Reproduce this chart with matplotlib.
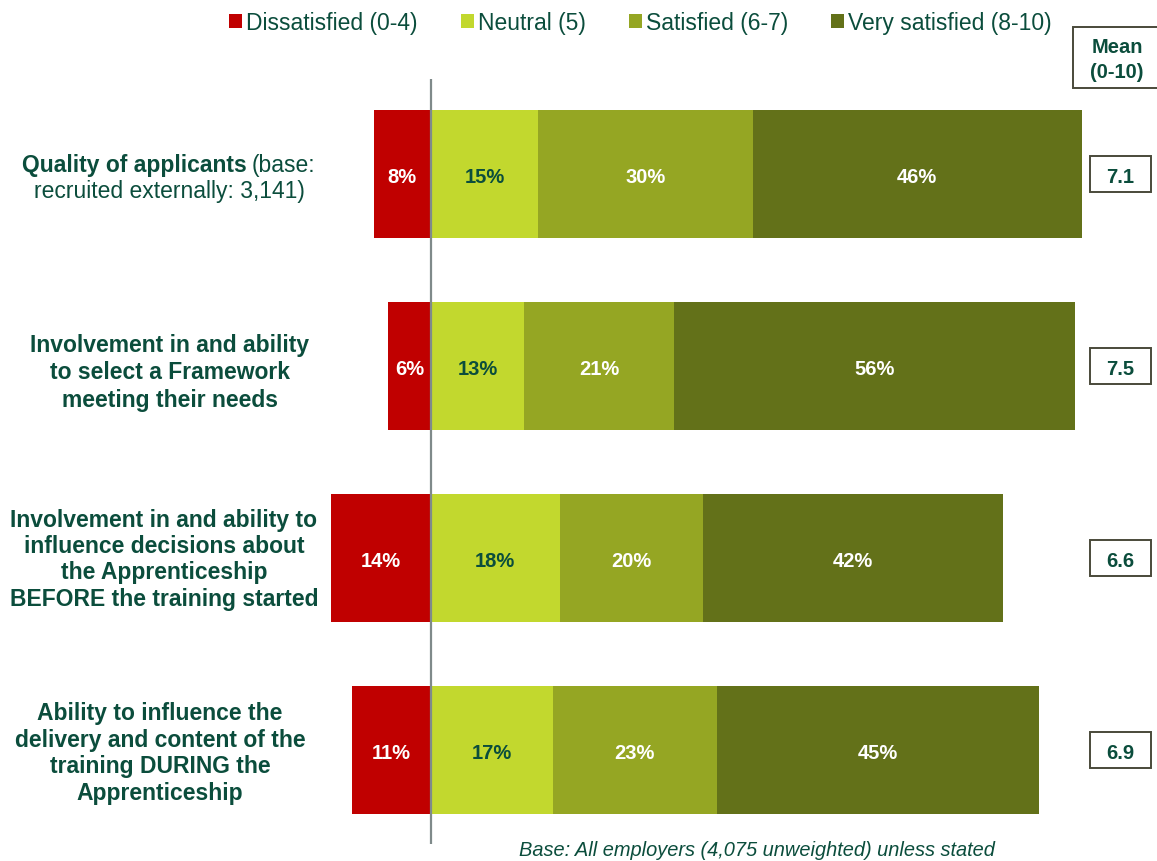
import matplotlib
matplotlib.use("Agg")
import matplotlib.pyplot as plt
from matplotlib.patches import Rectangle

plt.rcParams['font.family'] = ['Liberation Sans', 'DejaVu Sans']

categories = [
    "Quality of applicants",
    "Involvement in and ability\nto select a Framework\nmeeting their needs",
    "Involvement in and ability to\ninfluence decisions about\nthe Apprenticeship\nBEFORE the training started",
    "Ability to influence the\ndelivery and content of the\ntraining DURING the\nApprenticeship",
]
dissatisfied = [8, 6, 14, 11]
neutral = [15, 13, 18, 17]
satisfied = [30, 21, 20, 23]
very_satisfied = [46, 56, 42, 45]
means = ["7.1", "7.5", "6.6", "6.9"]
series_names = ["Dissatisfied (0-4)", "Neutral (5)", "Satisfied (6-7)", "Very satisfied (8-10)"]

C_RED = "#C00000"
C_NEU = "#C2D82E"
C_SAT = "#95A623"
C_VS = "#637119"
TXT = "#0B4D3C"
BOX_EC = "#4A4A3A"

W, H = 1157, 862
fig = plt.figure(figsize=(W / 100, H / 100), dpi=100)
ax = fig.add_axes([0, 0, 1, 1])
ax.axis("off")

PX = 7.15      # pixels per percent
X0 = 431       # zero line pixel
ROW0, ROWSTEP = 175, 192
ax.set_xlim(-X0 / PX, (W - X0) / PX)
ax.set_ylim((H - ROW0) / ROWSTEP, -ROW0 / ROWSTEP)

def fx(px):
    return px / W

def fy(py):
    return 1 - py / H

ys = list(range(len(categories)))
h = 128 / ROWSTEP
dy = 2.5 / ROWSTEP

b0 = ax.barh(ys, [-d for d in dissatisfied], height=h, color=C_RED, label=series_names[0])
b1 = ax.barh(ys, neutral, height=h, color=C_NEU, label=series_names[1])
left2 = neutral
b2 = ax.barh(ys, satisfied, left=left2, height=h, color=C_SAT, label=series_names[2])
left3 = [a + b for a, b in zip(neutral, satisfied)]
b3 = ax.barh(ys, very_satisfied, left=left3, height=h, color=C_VS, label=series_names[3])

ax.vlines(0, (80 - ROW0) / ROWSTEP, (845 - ROW0) / ROWSTEP, color="#7F8A8A", lw=1.6, zorder=5)

fs_pct = 14.5
bw, bh = 61 / PX, 36 / ROWSTEP
bx = (1120.5 - X0) / PX
for i in ys:
    yi = i + dy
    ax.text(-dissatisfied[i] / 2, yi, f"{dissatisfied[i]}%", ha="center", va="center",
            color="white", fontsize=fs_pct, fontweight="bold")
    ax.text(neutral[i] / 2, yi, f"{neutral[i]}%", ha="center", va="center",
            color=TXT, fontsize=fs_pct, fontweight="bold")
    ax.text(left2[i] + satisfied[i] / 2, yi, f"{satisfied[i]}%", ha="center", va="center",
            color="white", fontsize=fs_pct, fontweight="bold")
    ax.text(left3[i] + very_satisfied[i] / 2, yi, f"{very_satisfied[i]}%", ha="center", va="center",
            color="white", fontsize=fs_pct, fontweight="bold")
    # mean box
    ax.add_patch(Rectangle((bx - bw / 2, i - bh / 2), bw, bh, fc="white", ec=BOX_EC, lw=1.4))
    ax.text(bx, yi, means[i], ha="center", va="center", color=TXT,
            fontsize=14.5, fontweight="bold")

# Row labels
fs_lab = 16.5
# row 1: mixed bold/regular
fig.text(fx(247), fy(172), categories[0], ha="right", va="baseline", fontsize=fs_lab,
         fontweight="bold", color=TXT)
fig.text(fx(252), fy(172), "(base:", ha="left", va="baseline", fontsize=fs_lab, color=TXT)
fig.text(fx(169), fy(198), "recruited externally: 3,141)", ha="center", va="baseline",
         fontsize=fs_lab, color=TXT)

label_cx = [None, 170, 164, 160]
first_base = [None, 352, 527, 720]
line_step = [None, 27.5, 26.2, 26.7]
for i in range(1, 4):
    for k, line in enumerate(categories[i].split("\n")):
        fig.text(fx(label_cx[i]), fy(first_base[i] + k * line_step[i]), line, ha="center",
                 va="baseline", fontsize=fs_lab, fontweight="bold", color=TXT)

# Legend
leg = fig.legend(handles=[b0, b1, b2, b3], labels=series_names, loc="center",
                 bbox_to_anchor=(fx(640.5), fy(23.5)), ncol=4, frameon=False,
                 fontsize=16.5, handlelength=0.57, handleheight=0.57, handletextpad=0.17,
                 columnspacing=1.88, borderpad=0, borderaxespad=0)
for t in leg.get_texts():
    t.set_color(TXT)

# Mean header box
fig.patches.append(Rectangle((fx(1073), fy(89)), fx(100), 61 / H, transform=fig.transFigure,
                             fc="white", ec=BOX_EC, lw=1.4))
fig.text(fx(1117), fy(53), "Mean", ha="center", va="baseline", fontsize=14.5,
         fontweight="bold", color=TXT)
fig.text(fx(1117), fy(78), "(0-10)", ha="center", va="baseline", fontsize=14.5,
         fontweight="bold", color=TXT)

# Footnote
fig.text(fx(757), fy(856), "Base: All employers (4,075 unweighted) unless stated", ha="center",
         va="baseline", fontsize=14.4, style="italic", color=TXT)

fig.savefig("out.png", dpi=100)
